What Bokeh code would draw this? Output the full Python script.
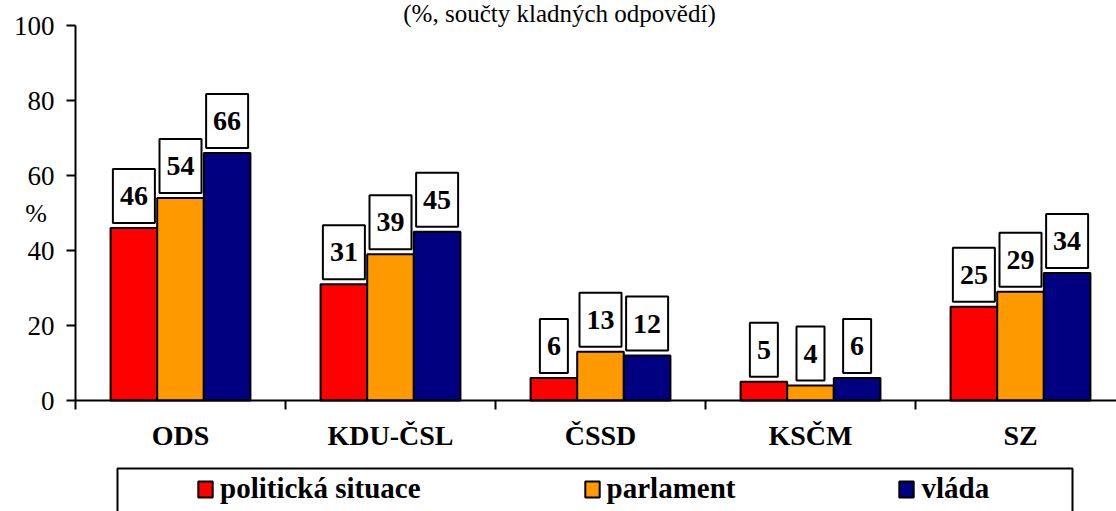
from bokeh.plotting import figure
from bokeh.models import (Range1d, FixedTicker, LinearAxis, Legend, LegendItem,
                          BoxAnnotation, ColumnDataSource)
from bokeh.core.properties import value
from bokeh.embed import file_html
from bokeh.resources import INLINE

# ---- data ----
categories = ["ODS", "KDU-ČSL", "ČSSD", "KSČM", "SZ"]
series_names = ["politická situace", "parlament", "vláda"]
politicka = [46, 31, 6, 5, 25]
parlament = [54, 39, 13, 4, 29]
vlada = [66, 45, 12, 6, 34]
y_ticks = [0, 20, 40, 60, 80, 100]
title_text = "(%, součty kladných odpovědí)"
y_label = "%"

# ---- style ----
colors = ["#FF0000", "#FF9900", "#000080"]
FONT = "Liberation Serif"
PX_X = 210.0   # px per category
PX_Y = 3.75    # px per percent
X0 = 75        # canvas left to y axis (px)
Y0 = 400       # canvas top to x axis (px)
W, H = 1116, 511


def sx(px):
    return (px - X0) / PX_X


def sy(py):
    return (Y0 - py) / PX_Y


p = figure(width=W, height=H, output_backend="svg", toolbar_location=None,
           x_range=Range1d(sx(0), sx(W)), y_range=Range1d(sy(H), sy(0)),
           min_border=0, x_axis_type=None, y_axis_type=None)
p.grid.visible = False
p.outline_line_color = None
p.background_fill_color = "white"

# y axis
yax = LinearAxis(fixed_location=0, bounds=(0, 100),
                 ticker=FixedTicker(ticks=y_ticks, minor_ticks=[]))
yax.axis_line_width = 2
yax.major_tick_line_width = 2
yax.major_tick_out = 9
yax.major_tick_in = 0
yax.major_label_standoff = 12
yax.major_label_text_font = FONT
yax.major_label_text_font_size = "27px"
yax.major_label_text_color = "black"
p.add_layout(yax, "left")

# x axis
centers = [i + 0.5 for i in range(len(categories))]
xax = LinearAxis(fixed_location=0, bounds=(0, len(categories)),
                 ticker=FixedTicker(ticks=centers,
                                    minor_ticks=list(range(len(categories) + 1))))
xax.major_label_overrides = {c: lab for c, lab in zip(centers, categories)}
xax.axis_line_width = 2
xax.major_tick_line_color = None
xax.major_tick_out = 0
xax.major_tick_in = 0
xax.minor_tick_line_color = "black"
xax.minor_tick_line_width = 2
xax.minor_tick_out = 9
xax.minor_tick_in = 0
xax.major_label_standoff = 10
xax.major_label_text_font = FONT
xax.major_label_text_font_style = "bold"
xax.major_label_text_font_size = "28px"
xax.major_label_text_color = "black"
p.add_layout(xax, "below")

# bars
bw = 0.222
offsets = [-bw, 0, bw]
renderers = []
for vals, off, col in zip([politicka, parlament, vlada], offsets, colors):
    src = ColumnDataSource(dict(x=[c + off for c in centers], top=vals,
                                lab=[str(v) for v in vals]))
    r = p.vbar(x="x", top="top", bottom=0, width=bw, source=src,
               fill_color=col, line_color="black", line_width=2)
    renderers.append(r)
    p.text(x="x", y="top", text="lab", source=src,
           text_font=value(FONT), text_font_style="bold", text_font_size="28px",
           text_align="center", text_baseline="bottom", y_offset=-5,
           background_fill_color="white", border_line_color="black",
           border_line_width=2,
           padding=dict(left=7, right=7, top=18, bottom=18))

# title
p.text(x=[sx(559)], y=[sy(13)], text=[title_text],
       text_font=value(FONT), text_font_size="25px", text_align="center",
       text_baseline="alphabetic", text_color="black")

# y label "%"
p.text(x=[sx(35.5)], y=[50], text=[y_label],
       text_font=value(FONT), text_font_size="26px", text_align="center",
       text_baseline="middle", text_color="black")

# legend frame
box = BoxAnnotation(left=sx(117), right=sx(1072), top=sy(468), bottom=sy(560),
                    fill_alpha=0, line_color="black", line_alpha=1.0,
                    line_width=2)
p.add_layout(box)

legend = Legend(items=[LegendItem(label=n, renderers=[r])
                       for n, r in zip(series_names, renderers)],
                orientation="horizontal", location=(196, 6),
                padding=0, margin=0, spacing=162,
                glyph_width=18, glyph_height=20, label_standoff=6,
                label_text_font=FONT, label_text_font_style="bold",
                label_text_font_size="29px", label_text_color="black",
                border_line_alpha=0, background_fill_alpha=0)
p.add_layout(legend)

open("out.html", "w").write(file_html(p, INLINE))
